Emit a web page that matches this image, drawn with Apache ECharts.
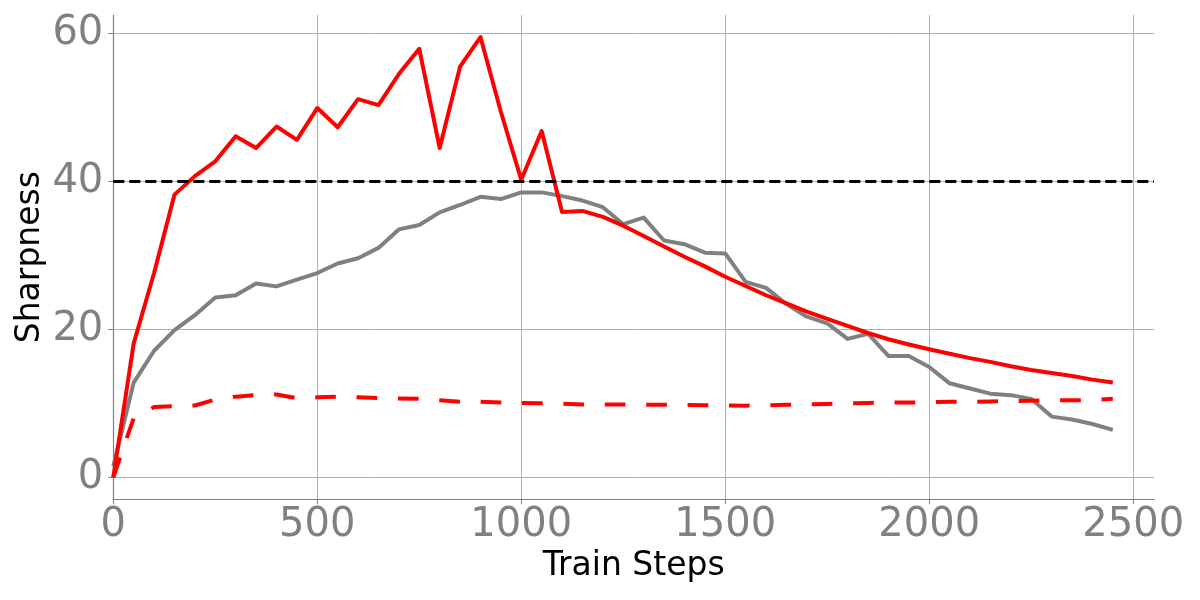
<!DOCTYPE html>
<html>
<head>
<meta charset="utf-8">
<script src="https://cdn.jsdelivr.net/npm/echarts@6/dist/echarts.min.js"></script>
<style>html,body{margin:0;padding:0;background:#fff;}#c{width:1200px;height:600px;}</style>
</head>
<body>
<div id="c"></div>
<script>
const steps = [0,50,100,150,200,250,300,350,400,450,500,550,600,650,700,750,800,850,900,950,1000,1050,1100,1150,1200,1250,1300,1350,1400,1450,1500,1550,1600,1650,1700,1750,1800,1850,1900,1950,2000,2050,2100,2150,2200,2250,2300,2350,2400,2450];
const redSolid = [0,18.1,27.6,38.2,40.7,42.7,46.1,44.5,47.4,45.6,49.9,47.3,51.1,50.3,54.5,57.9,44.5,55.5,59.5,49.4,40.2,46.8,35.85,36.0,35.2,34.0,32.6,31.2,29.8,28.5,27.1,25.85,24.6,23.5,22.4,21.4,20.45,19.5,18.65,17.95,17.3,16.7,16.1,15.6,15.0,14.5,14.1,13.7,13.2,12.8];
const graySolid = [1.5,12.8,17.1,19.9,21.9,24.3,24.6,26.2,25.8,26.7,27.6,28.9,29.6,31.0,33.5,34.1,35.8,36.8,37.9,37.6,38.5,38.5,38.0,37.4,36.5,34.2,35.1,32.0,31.5,30.35,30.25,26.4,25.6,23.4,21.7,20.8,18.7,19.4,16.4,16.4,14.9,12.7,12.0,11.3,11.1,10.6,8.2,7.8,7.2,6.4];
const redDashed = [0,8.0,9.5,9.6,9.7,10.5,10.9,11.1,11.2,10.7,10.8,10.9,10.8,10.7,10.65,10.6,10.4,10.2,10.2,10.1,10.05,10.0,9.95,9.85,9.85,9.85,9.8,9.8,9.78,9.75,9.72,9.68,9.72,9.8,9.85,9.9,10.0,10.05,10.1,10.1,10.15,10.2,10.2,10.25,10.3,10.35,10.4,10.4,10.45,10.6];
const thresholdValue = 40;
const xTicks = [0,500,1000,1500,2000,2500];
const yTicks = [0,20,40,60];
const xLabel = 'Train Steps';
const yLabel = 'Sharpness';

function pairs(ys){ return steps.map((s,i)=>[s, ys[i]]); }

const FONT = 'DejaVu Sans';
const chart = echarts.init(document.getElementById('c'), null, {renderer:'canvas'});
chart.setOption({
  animation: false,
  backgroundColor: '#ffffff',
  grid: { left: 113.3, right: 46, top: 15, bottom: 100.7, containLabel: false, outerBoundsMode: 'none' },
  xAxis: {
    type: 'value', min: 0, max: 2551,
    name: xLabel, nameLocation: 'middle', nameGap: 51, nameMoveOverlap: false,
    nameTextStyle: { fontFamily: FONT, fontSize: 33, color: '#000' },
    axisLine: { show: true, onZero: false, lineStyle: { color: '#808080', width: 1.2 } },
    axisTick: { show: true, length: 5, lineStyle: { color: '#808080', width: 1 }, customValues: xTicks },
    axisLabel: { fontFamily: FONT, fontSize: 40, color: '#808080', margin: 6, customValues: xTicks,
                 formatter: v => String(v) },
    splitLine: { show: true, lineStyle: { color: '#b0b0b0', width: 1 } }
  },
  yAxis: {
    type: 'value', min: -2.975, max: 62.475,
    name: yLabel, nameLocation: 'middle', nameGap: 66, nameMoveOverlap: false,
    nameTextStyle: { fontFamily: FONT, fontSize: 33, color: '#000' },
    axisLine: { show: true, onZero: false, lineStyle: { color: '#808080', width: 1.2 } },
    axisTick: { show: true, length: 5, lineStyle: { color: '#808080', width: 1 }, customValues: yTicks },
    axisLabel: { fontFamily: FONT, fontSize: 40, color: '#808080', margin: 10, customValues: yTicks,
                 formatter: v => String(v) },
    splitLine: { show: true, lineStyle: { color: '#b0b0b0', width: 1 } }
  },
  series: [
    {
      type: 'line', data: pairs(graySolid), showSymbol: false, symbol: 'none', z: 3,
      lineStyle: { color: '#808080', width: 4, join: 'round' }
    },
    {
      type: 'line', data: pairs(redSolid), showSymbol: false, symbol: 'none', z: 4,
      lineStyle: { color: '#ff0000', width: 4, join: 'round' },
      markLine: {
        silent: true, symbol: 'none', label: { show: false },
        lineStyle: { color: '#000', width: 3, type: [11, 5] },
        data: [{ yAxis: thresholdValue }]
      }
    },
    {
      type: 'line', data: pairs(redDashed), showSymbol: false, symbol: 'none', z: 5,
      lineStyle: { color: '#ff0000', width: 4, type: [20.7, 20.7], join: 'round' }
    }
  ]
});
</script>
</body>
</html>
